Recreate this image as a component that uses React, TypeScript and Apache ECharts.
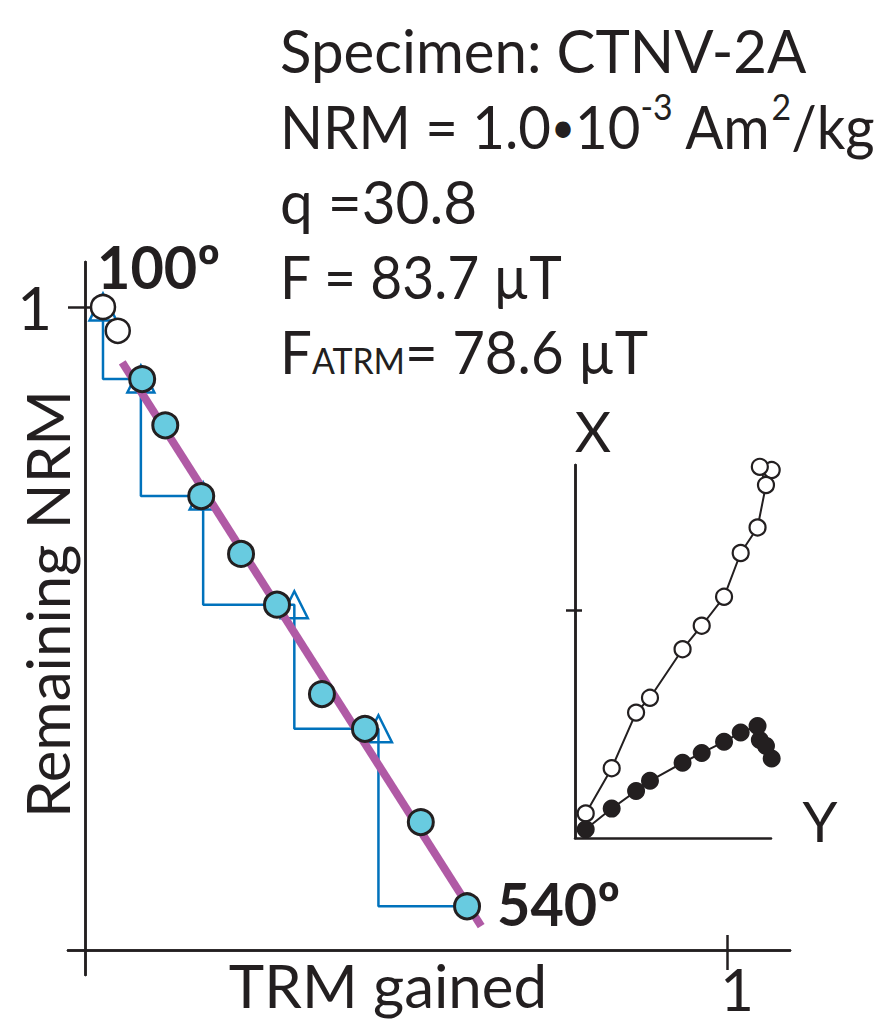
import React, { useEffect, useRef } from "react";
import * as echarts from "echarts";

// ---- Arai plot data (fraction of NRM / TRM) ----
const openTRM = [0.028, 0.051];
const openNRM = [1.0, 0.963];
const fitTRM = [0.089, 0.125, 0.181, 0.243, 0.299, 0.369, 0.436, 0.523, 0.595];
const fitNRM = [0.888, 0.816, 0.706, 0.616, 0.537, 0.398, 0.344, 0.199, 0.068];
const checkTRM = [0.028, 0.087, 0.184, 0.326, 0.457];
const checkNRM = [1.0, 0.888, 0.706, 0.537, 0.344];
const lineTRM = [0.058, 0.617];
const lineNRM = [0.914, 0.037];
const araiTickValues = [1];
const xTickLabel = "1";

// ---- Zijderveld inset data (arbitrary units) ----
const zijY = [0.863, 0.811, 0.838, 0.801, 0.727, 0.654, 0.556, 0.472, 0.329, 0.268, 0.161, 0.047];
const zijXopen = [1.614, 1.628, 1.548, 1.362, 1.25, 1.058, 0.931, 0.828, 0.615, 0.55, 0.306, 0.108];
const zijXfilled = [0.349, 0.43, 0.404, 0.491, 0.463, 0.422, 0.373, 0.33, 0.251, 0.206, 0.129, 0.038];
const zijTickValues = [1];

const INK = "#231f20";
const BLUE = "#0072bc";
const FONT = "Lato";

export default function App() {
  const ref = useRef<HTMLDivElement>(null);
  useEffect(() => {
    if (!ref.current) return;
    const chart = echarts.init(ref.current, undefined, { renderer: "svg" });

    const stair: number[][] = [];
    for (let i = 0; i < checkTRM.length; i++) {
      const last = i + 1 >= checkTRM.length;
      const nx = last ? fitTRM[fitTRM.length - 1] : checkTRM[i + 1];
      const ny = last ? fitNRM[fitNRM.length - 1] : checkNRM[i + 1];
      stair.push([checkTRM[i], checkNRM[i]], [checkTRM[i], ny], [nx, ny]);
    }

    const mainX = { min: -0.0265, max: 1.098 };
    const mainY = { min: -0.0389, max: 1.07 };
    const lineStyle = { color: INK, width: 2.5 };

    const option: any = {
      animation: false,
      backgroundColor: "#ffffff",
      grid: [
        { left: 68, top: 262, width: 722, height: 713, outerBoundsMode: "none", containLabel: false },
        { left: 575, top: 465, width: 196, height: 373, outerBoundsMode: "none", containLabel: false },
      ],
      xAxis: [
        {
          gridIndex: 0, type: "value", position: "bottom", ...mainX,
          axisLine: { show: true, onZero: true, lineStyle },
          axisTick: { show: true, customValues: araiTickValues, length: 20, lineStyle },
          axisLabel: { show: false },
          splitLine: { show: false },
        },
        {
          gridIndex: 0, type: "value", position: "bottom", ...mainX,
          axisLine: { show: true, onZero: true, lineStyle },
          axisTick: { show: true, inside: true, customValues: araiTickValues, length: 15, lineStyle },
          axisLabel: { show: false },
          splitLine: { show: false },
        },
        {
          gridIndex: 1, type: "value", position: "bottom", min: 0, max: 0.86,
          axisLine: { show: true, onZero: true, lineStyle },
          axisTick: { show: false },
          axisLabel: { show: false },
          splitLine: { show: false },
        },
      ],
      yAxis: [
        {
          gridIndex: 0, type: "value", position: "left", ...mainY,
          axisLine: { show: true, onZero: true, lineStyle },
          axisTick: { show: true, customValues: araiTickValues, length: 17, lineStyle },
          axisLabel: { show: true, customValues: araiTickValues, fontSize: 60, fontFamily: FONT, color: INK, margin: 16 },
          splitLine: { show: false },
        },
        {
          gridIndex: 0, type: "value", position: "left", ...mainY,
          axisLine: { show: true, onZero: true, lineStyle },
          axisTick: { show: true, inside: true, customValues: araiTickValues, length: 10, lineStyle },
          axisLabel: { show: false },
          splitLine: { show: false },
        },
        {
          gridIndex: 1, type: "value", position: "left", min: 0, max: 1.636,
          axisLine: { show: true, onZero: true, lineStyle },
          axisTick: { show: true, customValues: zijTickValues, length: 9, lineStyle },
          axisLabel: { show: false },
          splitLine: { show: false },
        },
        {
          gridIndex: 1, type: "value", position: "left", min: 0, max: 1.636,
          axisLine: { show: true, onZero: true, lineStyle },
          axisTick: { show: true, inside: true, customValues: zijTickValues, length: 7, lineStyle },
          axisLabel: { show: false },
          splitLine: { show: false },
        },
      ],
      series: [
        {
          name: "pTRM check path", type: "line", xAxisIndex: 0, yAxisIndex: 0,
          data: stair, symbol: "none", silent: true, clip: false, z: 1,
          lineStyle: { color: BLUE, width: 2.5 },
        },
        {
          name: "pTRM checks", type: "scatter", xAxisIndex: 0, yAxisIndex: 0,
          data: checkTRM.map((x, i) => [x, checkNRM[i]]),
          symbol: "triangle", symbolSize: [27, 27], silent: true, clip: false, z: 2,
          itemStyle: { color: "transparent", borderColor: BLUE, borderWidth: 2.5, opacity: 1 },
        },
        {
          name: "fit", type: "line", xAxisIndex: 0, yAxisIndex: 0,
          data: lineTRM.map((x, i) => [x, lineNRM[i]]),
          symbol: "none", silent: true, clip: false, z: 3,
          lineStyle: { color: "#b05aa5", width: 8 },
        },
        {
          name: "excluded", type: "scatter", xAxisIndex: 0, yAxisIndex: 0,
          data: openTRM.map((x, i) => [x, openNRM[i]]),
          symbol: "circle", symbolSize: 24, silent: true, clip: false, z: 4,
          itemStyle: { color: "#ffffff", borderColor: INK, borderWidth: 2.5, opacity: 1 },
        },
        {
          name: "used", type: "scatter", xAxisIndex: 0, yAxisIndex: 0,
          data: fitTRM.map((x, i) => [x, fitNRM[i]]),
          symbol: "circle", symbolSize: 25, silent: true, clip: false, z: 4,
          itemStyle: { color: "#68cbe0", borderColor: INK, borderWidth: 3, opacity: 1 },
        },
        {
          name: "zij vertical", type: "line", xAxisIndex: 2, yAxisIndex: 2,
          data: zijY.map((x, i) => [x, zijXopen[i]]),
          symbol: "circle", symbolSize: 16, showAllSymbol: true, silent: true, clip: false, z: 4,
          lineStyle: { color: INK, width: 2 },
          itemStyle: { color: "#ffffff", borderColor: INK, borderWidth: 2.2, opacity: 1 },
        },
        {
          name: "zij horizontal", type: "line", xAxisIndex: 2, yAxisIndex: 2,
          data: zijY.map((x, i) => [x, zijXfilled[i]]),
          symbol: "circle", symbolSize: 18, showAllSymbol: true, silent: true, clip: false, z: 4,
          lineStyle: { color: INK, width: 2 },
          itemStyle: { color: INK, borderWidth: 0, opacity: 1 },
        },
      ],
      graphic: [
        {
          type: "text", x: 280, y: 50, scaleX: 0.97,
          style: { text: "Specimen: CTNV-2A", font: `60px ${FONT}`, fill: INK, align: "left", verticalAlign: "middle" },
        },
        {
          type: "text", x: 280, y: 126, scaleX: 0.94,
          style: {
            text: "{m|NRM = 1.0}{b|•}{m|10}{s|-3}{m| Am}{s|2}{m|/kg}",
            fill: INK, align: "left", verticalAlign: "middle",
            rich: {
              m: { fontSize: 60, fontFamily: FONT, fill: INK, lineHeight: 76 },
              b: { fontSize: 44, fontFamily: FONT, fill: INK, lineHeight: 44, verticalAlign: "middle" },
              s: { fontSize: 36, fontFamily: FONT, fill: INK, lineHeight: 36, verticalAlign: "top" },
            },
          },
        },
        {
          type: "text", x: 280, y: 201, scaleX: 0.975,
          style: { text: "q =30.8", font: `60px ${FONT}`, fill: INK, align: "left", verticalAlign: "middle" },
        },
        {
          type: "text", x: 280, y: 276, scaleX: 0.92,
          style: { text: "F = 83.7 µT", font: `60px ${FONT}`, fill: INK, align: "left", verticalAlign: "middle" },
        },
        {
          type: "text", x: 280, y: 351, scaleX: 0.94,
          style: {
            text: "{m|F}{s|ATRM}{m|= 78.6 µT}",
            fill: INK, align: "left", verticalAlign: "middle",
            rich: {
              m: { fontSize: 60, fontFamily: FONT, fill: INK, lineHeight: 76 },
              s: { fontSize: 36, fontFamily: FONT, fill: INK, lineHeight: 40, verticalAlign: "middle", padding: [18, 0, 0, 0] },
            },
          },
        },
        {
          type: "text", x: 97, y: 266, scaleX: 0.96,
          style: { text: "100º", font: `bold 60px ${FONT}`, fill: INK, align: "left", verticalAlign: "middle" },
        },
        {
          type: "text", x: 497, y: 903, scaleX: 0.96,
          style: { text: "540º", font: `bold 60px ${FONT}`, fill: INK, align: "left", verticalAlign: "middle" },
        },
        {
          type: "text", x: 47, y: 604, rotation: Math.PI / 2,
          style: { text: "Remaining NRM", font: `60px ${FONT}`, fill: INK, align: "center", verticalAlign: "middle" },
        },
        {
          type: "text", x: 388, y: 985,
          style: { text: "TRM gained", font: `60px ${FONT}`, fill: INK, align: "center", verticalAlign: "middle" },
        },
        {
          type: "text", x: 737, y: 988,
          style: { text: xTickLabel, font: `58px ${FONT}`, fill: INK, align: "center", verticalAlign: "middle" },
        },
        {
          type: "text", x: 593, y: 430,
          style: { text: "X", font: `56px ${FONT}`, fill: INK, align: "center", verticalAlign: "middle" },
        },
        {
          type: "text", x: 820, y: 820,
          style: { text: "Y", font: `56px ${FONT}`, fill: INK, align: "center", verticalAlign: "middle" },
        },
      ],
    };
    chart.setOption(option);
    return () => chart.dispose();
  }, []);

  return (
    <div
      ref={ref}
      style={{ position: "fixed", left: 0, top: 0, width: 885, height: 1023, background: "#fff" }}
    />
  );
}
